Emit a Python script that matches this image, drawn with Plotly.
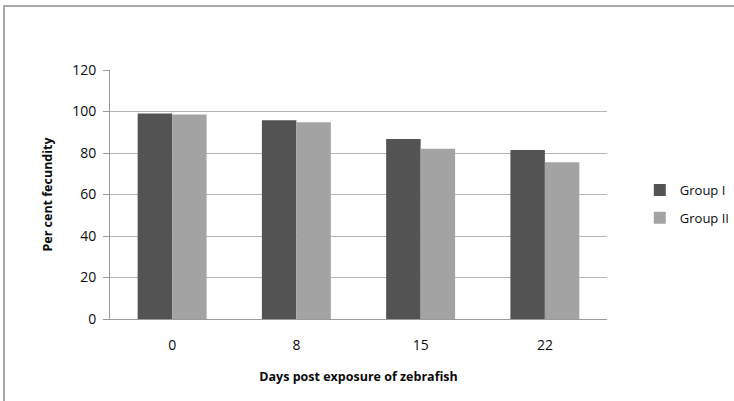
import plotly.graph_objects as go

days = ["0", "8", "15", "22"]
group1 = [99.0, 95.8, 86.8, 81.5]
group2 = [98.5, 94.8, 82.1, 75.6]
y_ticks = [0, 20, 40, 60, 80, 100, 120]

font_fam = "Open Sans, Liberation Sans, sans-serif"

fig = go.Figure()
fig.add_trace(go.Bar(x=days, y=group1, name="Group I", legendgroup="g1",
                     marker=dict(color="#535353", line=dict(width=0))))
fig.add_trace(go.Bar(x=days, y=group2, name="Group II", legendgroup="g2",
                     marker=dict(color="#a3a3a3", line=dict(width=0))))

fig.update_layout(
    width=734, height=401,
    margin=dict(l=110, r=127, t=70, b=82, autoexpand=False),
    paper_bgcolor="white", plot_bgcolor="white",
    barmode="group", bargap=0.445, bargroupgap=0,
    font=dict(family=font_fam, size=14, color="#0a0a0a"),
    legend=dict(x=1.066, xanchor="left", y=0.462, yanchor="middle",
                traceorder="grouped", tracegroupgap=8,
                font=dict(size=13), bgcolor="rgba(0,0,0,0)"),
    xaxis=dict(showline=True, linecolor="#9a9a9a", linewidth=1,
               ticks="", ticklabelstandoff=13, automargin=False,
               title=dict(text="<b>Days post exposure of zebrafish</b>",
                          font=dict(size=12.5), standoff=19)),
    yaxis=dict(range=[0, 120], tickvals=y_ticks, showline=True,
               linecolor="#9a9a9a", linewidth=1, ticks="outside", ticklen=6,
               tickcolor="#9a9a9a", showgrid=True, gridcolor="#b4b4b4",
               zeroline=False, automargin=False, ticklabelstandoff=4,
               title=dict(text="<b>Per cent fecundity</b>",
                          font=dict(size=12.5), standoff=16)),
    shapes=[dict(type="rect", xref="paper", yref="paper",
                 x0=-0.2133, x1=1.28, y0=-0.40, y1=1.257,
                 line=dict(color="#8c8c8c", width=1.5), layer="below")],
)

fig.write_html("out.html", config={"displayModeBar": False},
               post_script="document.body.style.margin='0px';")
